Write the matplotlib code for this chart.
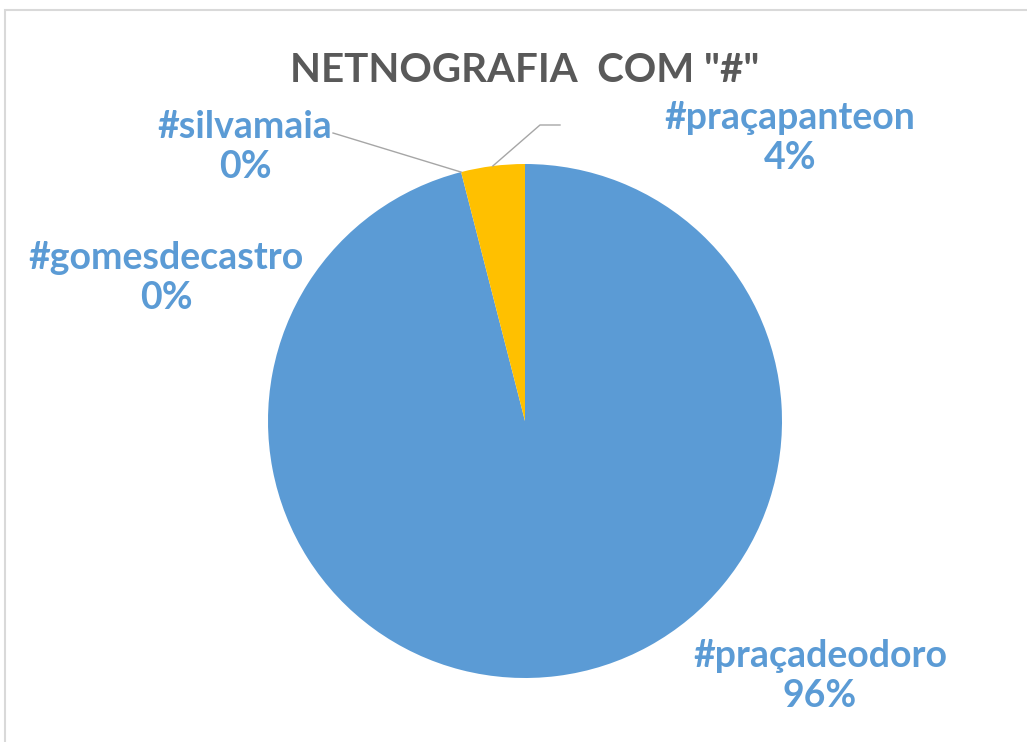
import numpy as np
import matplotlib
matplotlib.use("Agg")
import matplotlib.pyplot as plt
from matplotlib.patches import Rectangle

# ---------------------------------
# Data
# ---------------------------------
hashtags = ["#praçadeodoro", "#gomesdecastro", "#silvamaia", "#praçapanteon"]
shares = [96, 0, 0, 4]
colors = ["#5B9BD5", "#ED7D31", "#A5A5A5", "#FFC000"]
title = 'NETNOGRAFIA  COM "#"'

# label centres in pie units (radius = 1)
label_pos = {
    "#praçadeodoro": (1.148, -0.992),
    "#gomesdecastro": (-1.397, 0.556),
    "#silvamaia": (-1.089, 1.066),
    "#praçapanteon": (1.031, 1.101),
}

plt.rcParams["font.family"] = ["Lato", "DejaVu Sans"]

W, H = 1027, 742
fig = plt.figure(figsize=(W / 100, H / 100), dpi=100)
fig.patch.set_facecolor("white")

# chart frame (light grey)
fig.patches.append(Rectangle((5 / W, -0.1), 1.2, (H - 10) / H + 0.1,
                             transform=fig.transFigure, fill=False,
                             edgecolor="#D9D9D9", linewidth=1.5))

cx, cy, r = 525, 421, 257
ax = fig.add_axes([(cx - r) / W, (H - cy - r) / H, 2 * r / W, 2 * r / H])

wedges, _ = ax.pie(shares, colors=colors, startangle=90, counterclock=False,
                   radius=1, wedgeprops=dict(linewidth=0))
ax.set_xlim(-1, 1)
ax.set_ylim(-1, 1)
ax.set_aspect("equal")
ax.axis("off")

fig.text(cx / W, 1 - 70 / H, title, ha="center", va="center",
         fontsize=29, fontweight="bold", color="#595959")

for name, val, w in zip(hashtags, shares, wedges):
    lx, ly = label_pos[name]
    ax.text(lx, ly, f"{name}\n{val}%", ha="center", va="center",
            fontsize=27, fontweight="bold", color="#5B9BD5",
            linespacing=1.2, clip_on=False)

# leader lines for the small slices
def edge_point(w):
    ang = np.deg2rad((w.theta1 + w.theta2) / 2)
    return np.cos(ang), np.sin(ang)

ex, ey = edge_point(wedges[2])
ax.plot([(333 - cx) / r, ex], [(cy - 133) / r, ey], color="#A6A6A6",
        linewidth=1, clip_on=False)
ex, ey = edge_point(wedges[3])
ax.plot([ex, (540 - cx) / r, (560 - cx) / r],
        [ey, (cy - 125) / r, (cy - 125) / r], color="#A6A6A6",
        linewidth=1, clip_on=False)

fig.savefig("out.png", dpi=100, facecolor="white")
